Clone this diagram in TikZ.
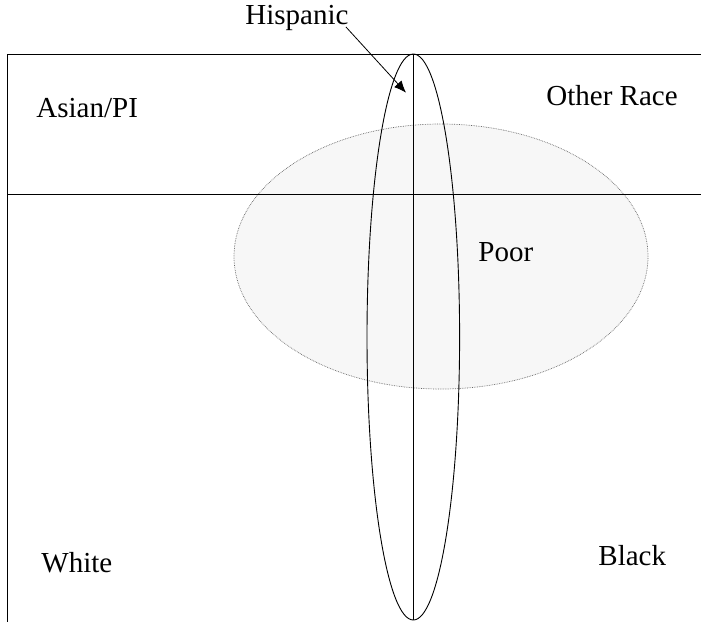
\documentclass[tikz,border=0pt]{standalone}
\usepackage{fontspec}
\setmainfont{Liberation Serif}
\usetikzlibrary{calc,arrows.meta}

\begin{document}
\begin{tikzpicture}[x=1pt, y=-1pt, line width=0.9pt,
  lab/.style={inner sep=0pt, anchor=base west, font=\fontsize{29}{34}\selectfont}]
  \useasboundingbox (0,0) rectangle (701,622);
  \coordinate (TL) at (7.5,54.3);
  \coordinate (TR) at (701,54.3);
  \coordinate (BL) at (7.5,622);
  \coordinate (ML) at (7.5,194.7);
  \coordinate (MR) at (701,194.7);
  \coordinate (VT) at (413.3,54.3);
  \coordinate (VB) at (413.3,620);
  \coordinate (hisptip) at (406,92.7);
  % poor
  \draw[fill=black!3, draw=black!60, densely dotted, line width=0.7pt]
    (441,256.5) ellipse [x radius=207, y radius=132.5];
  \draw (TL)--(TR);
  \draw (TL)--(BL);
  \draw (ML)--(MR);
  \draw (VT)--(VB);
  % hispanic
  \draw (413.3,337) ellipse [x radius=46.3, y radius=283];
  \node[lab] (hisp) at (245,24) {Hispanic};
  \node[lab] (asian) at (36,117.7) {Asian/PI};
  \node[lab] (other) at (546,105) {Other Race};
  \node[lab] (poor) at (478,261) {Poor};
  \node[lab] (black) at (598,565) {Black};
  \node[lab] (white) at (41,572.7) {White};
  \draw[-{Latex[length=12pt,width=10pt]}, line width=0.8pt]
    ($(hisp.base east)+(-3,3)$) -- (hisptip);
\end{tikzpicture}
\end{document}
